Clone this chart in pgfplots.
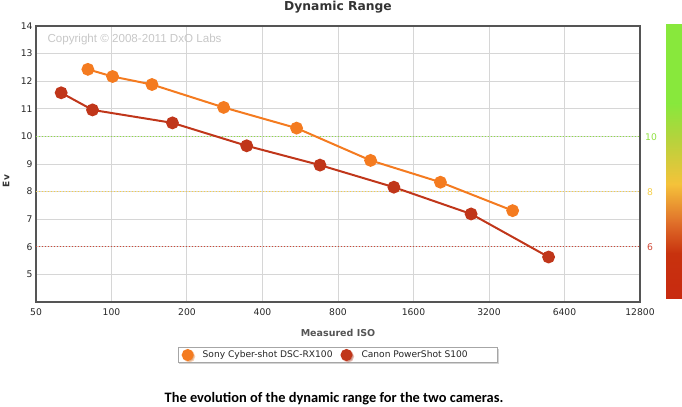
\documentclass[border=0pt]{standalone}
\usepackage{pgfplots}
\pgfplotsset{compat=1.18}
\usepackage{fontspec}
\setmainfont{DejaVu Sans}
\newfontfamily\arialfont{Liberation Sans}
\newfontfamily\capfont{Carlito}
\usetikzlibrary{shadows}
\definecolor{sonyc}{HTML}{F47B20}
\definecolor{canonc}{HTML}{C0361A}
\definecolor{gridc}{HTML}{D6D6D6}
\definecolor{framec}{HTML}{555555}
\definecolor{greenc}{HTML}{8EE040}
\definecolor{yellowc}{HTML}{F5CF48}
\definecolor{redc}{HTML}{D04836}
\definecolor{cbA}{HTML}{88E83C}
\definecolor{cbB}{HTML}{B2D43C}
\definecolor{cbC}{HTML}{F5C23A}
\definecolor{cbD}{HTML}{E0702A}
\definecolor{cbE}{HTML}{C8320E}
\definecolor{cbF}{HTML}{C82A10}
\begin{document}
\begin{tikzpicture}
\useasboundingbox (0,0) rectangle (682bp,-407bp);
\begin{axis}[
 at={(36bp,-302bp)}, anchor=south west,
 width=604bp, height=276bp, scale only axis,
 xmode=log, log basis x=2, xmin=50, xmax=12800, ymin=4, ymax=14,
 xtick={50,100,200,400,800,1600,3200,6400,12800},
 xticklabels={50,100,200,400,800,1600,3200,6400,12800},
 ytick={5,6,7,8,9,10,11,12,13,14},
 grid=major, major grid style={gridc, line width=1bp},
 major tick length=0pt,
 axis line style={framec, line width=1.5bp},
 tick label style={font=\fontsize{9.2bp}{10bp}\selectfont, color=black!85},
 xticklabel style={yshift=-3.5bp},
 /pgf/number format/assume math mode=true,
 clip=false,
 legend style={at={(0.4995,-0.192)}, anchor=center, draw=gray!70, fill=white,
   drop shadow={opacity=0.35, shadow xshift=1.5bp, shadow yshift=-1.5bp},
   font=\fontsize{9.1bp}{10bp}\selectfont, text=black!85,
   legend columns=2, /tikz/every even column/.append style={column sep=6bp},
   inner ysep=1.5bp, inner xsep=4bp},
 legend image code/.code={\fill[#1] (0bp,0bp) circle (5bp); \path (12bp,0bp);},
]
\addplot[greenc, dotted, line width=1bp, forget plot] coordinates {(50,10) (12800,10)};
\addplot[yellowc, dotted, line width=1bp, forget plot] coordinates {(50,8) (12800,8)};
\addplot[redc, dotted, line width=1bp, forget plot] coordinates {(50,6) (12800,6)};
\addplot[color=sonyc, line width=2bp, mark=*, mark size=5.4bp, mark options={fill=sonyc, draw=sonyc}]
 coordinates {(80.5,12.43) (101,12.17) (145,11.88) (280,11.05) (547,10.30) (1079,9.13) (2049,8.34) (3976,7.31)};
\addlegendentry{Sony Cyber-shot DSC-RX100}
\addplot[color=canonc, line width=2bp, mark=*, mark size=5.4bp, mark options={fill=canonc, draw=canonc}]
 coordinates {(63,11.58) (84,10.96) (175,10.49) (346,9.66) (678,8.96) (1336,8.16) (2715,7.19) (5530,5.63)};
\addlegendentry{Canon PowerShot S100\hspace*{24bp}\null}
\end{axis}
% colour bar
\fill[cbA] (666bp,-24bp) rectangle (682bp,-104bp);
\shade[top color=cbA, bottom color=cbB] (666bp,-103.5bp) rectangle (682bp,-136.5bp);
\shade[top color=cbB, bottom color=cbC] (666bp,-136bp) rectangle (682bp,-184.5bp);
\shade[top color=cbC, bottom color=cbD] (666bp,-184bp) rectangle (682bp,-222.5bp);
\shade[top color=cbD, bottom color=cbE] (666bp,-222bp) rectangle (682bp,-253.5bp);
\shade[top color=cbE, bottom color=cbF] (666bp,-253bp) rectangle (682bp,-298bp);
% right labels
\node[anchor=west, text=greenc, font=\fontsize{9.2bp}{10bp}\selectfont, inner sep=0pt] at (645bp,-137bp) {10};
\node[anchor=west, text=yellowc, font=\fontsize{9.2bp}{10bp}\selectfont, inner sep=0pt] at (647bp,-192bp) {8};
\node[anchor=west, text=redc, font=\fontsize{9.2bp}{10bp}\selectfont, inner sep=0pt] at (647bp,-247bp) {6};
% texts
\node[font=\fontsize{12.3bp}{14bp}\selectfont\bfseries, text=black!80] at (338bp,-7bp) {Dynamic Range};
\node[font=\fontsize{9.5bp}{11bp}\selectfont\bfseries, text=black!67] at (338bp,-333bp) {Measured ISO};
\node[font=\fontsize{9bp}{10bp}\selectfont\bfseries, text=black!80, rotate=90] at (6bp,-181bp) {Ev};
\node[anchor=west, font=\arialfont\fontsize{11.6bp}{12bp}\selectfont, text=black!22] at (44bp,-39bp) {Copyright © 2008-2011 DxO Labs};
\node[font=\capfont\bfseries\fontsize{14.4bp}{16bp}\selectfont, text=black] at (334bp,-399bp) {The evolution of the dynamic range for the two cameras.};
\end{tikzpicture}
\end{document}
